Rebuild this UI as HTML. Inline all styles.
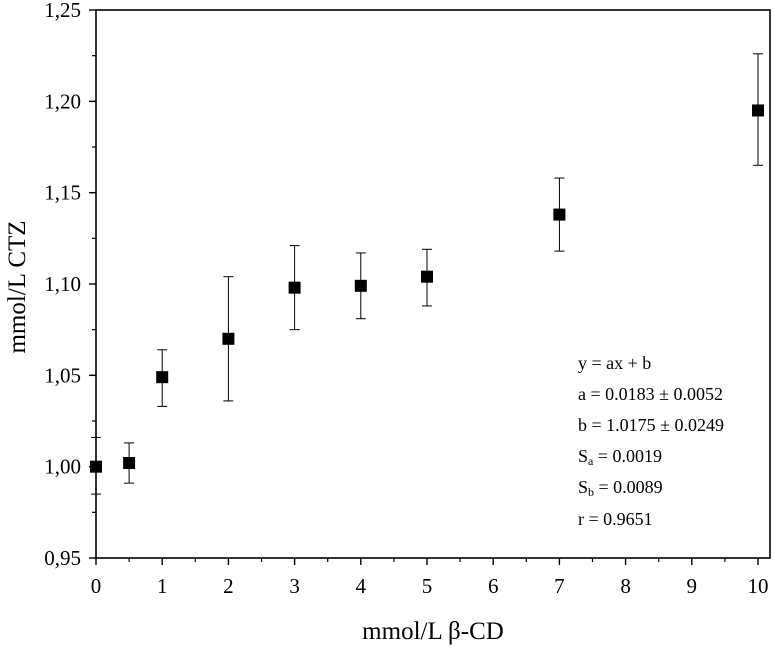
<!DOCTYPE html>
<html><head><meta charset="utf-8"><style>
html,body{margin:0;padding:0;background:#fff;}
svg{display:block;font-family:"Liberation Serif",serif;}
</style></head><body>
<svg id="chart" width="774" height="646">
<g id="axes"></g>
<g id="marks"></g>
<text x="433" y="639" font-size="25" text-anchor="middle">mmol/L β-CD</text>
<text transform="translate(25,287) rotate(-90)" font-size="25" text-anchor="middle">mmol/L CTZ</text>
<g font-size="18">
<text x="578" y="369">y = ax + b</text>
<text x="578" y="400">a = 0.0183 ± 0.0052</text>
<text x="578" y="431">b = 1.0175 ± 0.0249</text>
<text x="578" y="462">S<tspan font-size="12" dy="3">a</tspan><tspan dy="-3"> = 0.0019</tspan></text>
<text x="578" y="493">S<tspan font-size="12" dy="3">b</tspan><tspan dy="-3"> = 0.0089</tspan></text>
<text x="578" y="525">r = 0.9651</text>
</g>
</svg>
<script>
const xValues=[0,0.5,1,2,3,4,5,7,10];
const yValues=[1.000,1.002,1.049,1.070,1.098,1.099,1.104,1.138,1.195];
const errUp=[0.016,0.011,0.015,0.034,0.023,0.018,0.015,0.020,0.031];
const errDown=[0.015,0.011,0.016,0.034,0.023,0.018,0.016,0.020,0.030];
const xTicks=[0,1,2,3,4,5,6,7,8,9,10];
const yTicks=[0.95,1.00,1.05,1.10,1.15,1.20,1.25];
const NS="http://www.w3.org/2000/svg";
const L=96,R=770,T=10,B=558;
const xs=v=>96+v*66.2;
const ys=v=>B-(v-0.95)/0.3*(B-T);
function mk(t,a,p){const e=document.createElementNS(NS,t);for(const k in a)e.setAttribute(k,a[k]);p.appendChild(e);return e;}
const ax=document.getElementById('axes');
const frame=mk('rect',{x:L,y:T,width:R-L,height:B-T,fill:'none',stroke:'#000','stroke-width':1.6},ax);


xTicks.forEach(v=>{
  const x=xs(v);
  const t=mk('line',{x1:x,x2:x,y1:B,y2:B+7,stroke:'#000','stroke-width':1.4},ax);
  
  
  if(v<10){const m=mk('line',{x1:xs(v+0.5),x2:xs(v+0.5),y1:B,y2:B+4,stroke:'#000','stroke-width':1.2},ax);
  
  }
  const l=mk('text',{x:x,y:593,'font-size':21,'text-anchor':'middle'},ax);l.textContent=String(v);
  
  
});
yTicks.forEach((v,i)=>{
  const y=ys(v);
  const t=mk('line',{x1:L-7,x2:L,y1:y,y2:y,stroke:'#000','stroke-width':1.4},ax);
  
  
  if(i<yTicks.length-1){const m=mk('line',{x1:L-4,x2:L,y1:ys(v+0.025),y2:ys(v+0.025),stroke:'#000','stroke-width':1.2},ax);
  
  }
  const l=mk('text',{x:81,y:y+7,'font-size':21,'text-anchor':'end'},ax);l.textContent=v.toFixed(2).replace('.',',');
  
  
});
const mg=document.getElementById('marks');
xValues.forEach((xv,i)=>{
  const x=xs(xv),y=ys(yValues[i]),yt=ys(yValues[i]+errUp[i]),yb=ys(yValues[i]-errDown[i]);
  const g=mk('g',{},mg);
  
  
  mk('line',{x1:x,x2:x,y1:yt,y2:yb,stroke:'#000','stroke-width':1},g);
  mk('line',{x1:x-5,x2:x+5,y1:yt,y2:yt,stroke:'#000','stroke-width':1},g);
  mk('line',{x1:x-5,x2:x+5,y1:yb,y2:yb,stroke:'#000','stroke-width':1},g);
  mk('rect',{x:x-6,y:y-6,width:12,height:12,fill:'#000'},g);
});
</script>
</body></html>
